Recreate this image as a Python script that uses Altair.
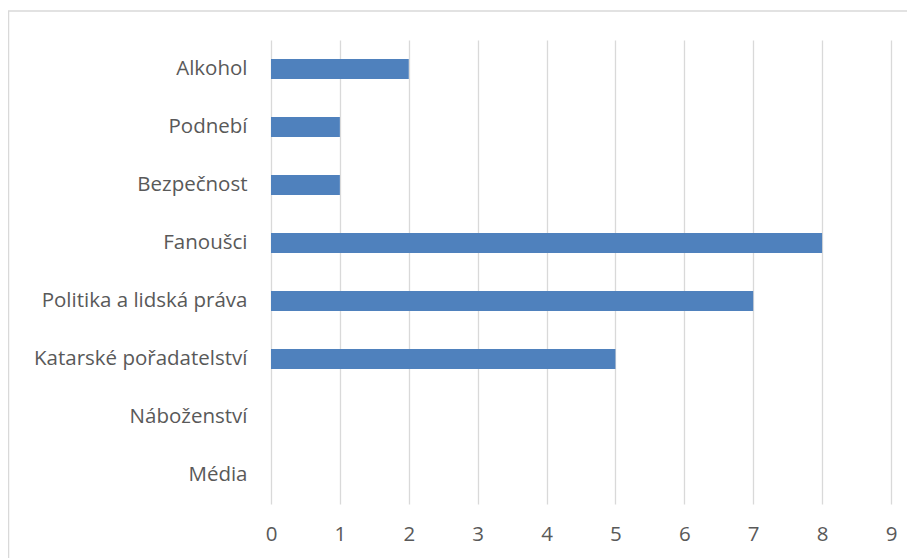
import altair as alt
import pandas as pd

categories = ["Alkohol", "Podnebí", "Bezpečnost", "Fanoušci",
              "Politika a lidská práva", "Katarské pořadatelství",
              "Náboženství", "Média"]
values = [2, 1, 1, 8, 7, 5, 0, 0]
x_ticks = [0, 1, 2, 3, 4, 5, 6, 7, 8, 9]

df = pd.DataFrame({"kategorie": categories, "pocet": values})

FONT = "Open Sans"
FS = 20.5
LABEL_COLOR = "#595959"
GRID_COLOR = "#d9d9d9"

bars = alt.Chart(df).mark_bar(color="#4F81BD").encode(
    x=alt.X("pocet:Q",
            scale=alt.Scale(domain=[0, 9], nice=False),
            axis=alt.Axis(values=x_ticks, title=None, grid=True,
                          gridColor=GRID_COLOR, gridWidth=1.3,
                          domain=False, ticks=False, labelPadding=20,
                          labelFlush=False, labelOverlap=False,
                          labelFont=FONT, labelFontSize=FS,
                          labelColor=LABEL_COLOR, format="d")),
    y=alt.Y("kategorie:N", sort=categories,
            scale=alt.Scale(paddingInner=0.655, paddingOuter=0.3276),
            axis=alt.Axis(title=None, domain=False, ticks=False, grid=False,
                          labelPadding=24, labelLimit=400, labelFont=FONT,
                          labelFontSize=FS, labelColor=LABEL_COLOR)),
)

frame = pd.DataFrame({"a": [0]})
top_border = alt.Chart(frame).mark_rule(color=GRID_COLOR, strokeWidth=1.5).encode(
    x=alt.value(-263), x2=alt.value(700), y=alt.value(-29))
left_border = alt.Chart(frame).mark_rule(color=GRID_COLOR, strokeWidth=1.5).encode(
    x=alt.value(-262.5), y=alt.value(-29), y2=alt.value(560))

chart = alt.layer(top_border, left_border, bars).properties(
    width=620, height=464,
    padding={"left": 263, "top": 32, "right": 16, "bottom": 54},
    autosize=alt.AutoSizeParams(type="none"),
    background="white",
).configure_view(stroke=None)

chart.save("out.html", embed_options={"renderer": "svg", "actions": False})
